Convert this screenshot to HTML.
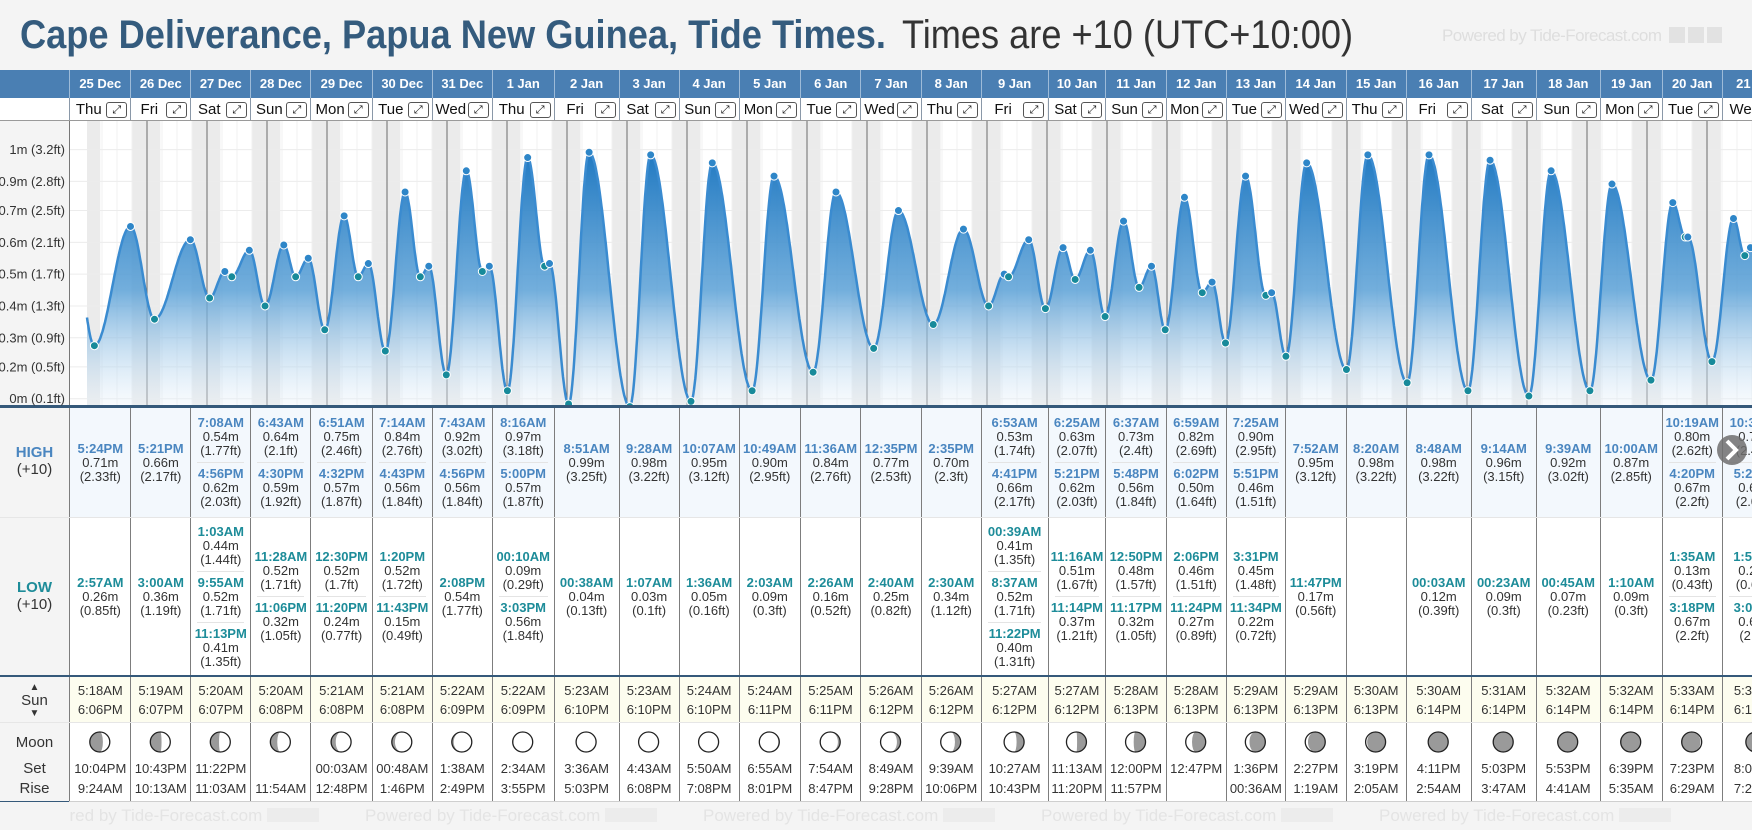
<!DOCTYPE html>
<html><head><meta charset="utf-8"><title>Cape Deliverance Tide Times</title>
<style>
*{box-sizing:border-box;margin:0;padding:0}
body{width:1752px;height:830px;overflow:hidden;background:#f4f4f4;font-family:"Liberation Sans",Arial,sans-serif;color:#333;position:relative}
.abs{position:absolute}
.hd{position:absolute;top:70px;height:28px;color:#fff;font-weight:bold;font-size:13px;line-height:28px;text-align:center;border-left:1px solid #9dbbd8;white-space:nowrap;overflow:hidden}
.dn{position:absolute;top:98px;height:23px;background:#fff;font-size:15px;line-height:23px;border-left:1px solid #8a98a8;white-space:nowrap;overflow:hidden;color:#111}
.dn .ex{position:absolute;right:3px;top:4px;width:21px;height:16px;border:1px solid #555;border-radius:3px;font-size:11px;line-height:14px;text-align:center;font-family:"DejaVu Sans",sans-serif}
.cell{position:absolute;display:flex;flex-direction:column;justify-content:center;align-items:center;border-left:1px solid #7d7d7d;font-size:13px;line-height:14px;text-align:center;white-space:nowrap;overflow:hidden}
.ent{width:100%;padding:0 2px}
.div{width:calc(100% - 12px);border-top:1px solid #e4e4e4;margin:4px 0}
.th{font-weight:bold;color:#4a86c0}
.tl{font-weight:bold;color:#1d8c99}
.lab{position:absolute;left:0;width:69px;text-align:center;font-size:15px}
</style></head>
<body>
<svg class="abs" style="left:0;top:0" width="1752" height="70">
<text x="20" y="48" font-family="Liberation Sans, sans-serif" font-weight="bold" font-size="40" fill="#345b7d" textLength="866" lengthAdjust="spacingAndGlyphs">Cape Deliverance, Papua New Guinea, Tide Times.</text>
<text x="902" y="48" font-family="Liberation Sans, sans-serif" font-size="40" fill="#333" textLength="451" lengthAdjust="spacingAndGlyphs">Times are +10 (UTC+10:00)</text>
<text x="1442" y="41" font-family="Liberation Sans, sans-serif" font-size="17" fill="#dedede" textLength="220">Powered by Tide-Forecast.com</text>
<rect x="1669" y="27" width="16" height="16" fill="#e2e2e2"/><rect x="1688" y="27" width="16" height="16" fill="#e2e2e2"/><rect x="1707" y="27" width="15" height="16" fill="#e2e2e2"/>
</svg>
<div class="abs" style="left:0;top:70px;width:1752px;height:28px;background:#4a7fb3"></div>
<div class="abs" style="left:0;top:98px;width:69px;height:23px;background:#fff"></div>
<div class="abs" style="left:0;top:121px;width:69px;height:709px;background:#f4f4f4"></div>
<div id="root"></div>
<svg id="chart" class="abs" style="left:0;top:0" width="1752" height="830"></svg>
<script>
const days=["25 Dec","26 Dec","27 Dec","28 Dec","29 Dec","30 Dec","31 Dec","1 Jan","2 Jan","3 Jan","4 Jan","5 Jan","6 Jan","7 Jan","8 Jan","9 Jan","10 Jan","11 Jan","12 Jan","13 Jan","14 Jan","15 Jan","16 Jan","17 Jan","18 Jan","19 Jan","20 Jan","21 Jan"];
const dows=["Thu","Fri","Sat","Sun","Mon","Tue","Wed","Thu","Fri","Sat","Sun","Mon","Tue","Wed","Thu","Fri","Sat","Sun","Mon","Tue","Wed","Thu","Fri","Sat","Sun","Mon","Tue","Wed"];
const highs=[[["5:24PM",0.71,"2.33"]],[["5:21PM",0.66,"2.17"]],[["7:08AM",0.54,"1.77"],["4:56PM",0.62,"2.03"]],[["6:43AM",0.64,"2.1"],["4:30PM",0.59,"1.92"]],[["6:51AM",0.75,"2.46"],["4:32PM",0.57,"1.87"]],[["7:14AM",0.84,"2.76"],["4:43PM",0.56,"1.84"]],[["7:43AM",0.92,"3.02"],["4:56PM",0.56,"1.84"]],[["8:16AM",0.97,"3.18"],["5:00PM",0.57,"1.87"]],[["8:51AM",0.99,"3.25"]],[["9:28AM",0.98,"3.22"]],[["10:07AM",0.95,"3.12"]],[["10:49AM",0.90,"2.95"]],[["11:36AM",0.84,"2.76"]],[["12:35PM",0.77,"2.53"]],[["2:35PM",0.70,"2.3"]],[["6:53AM",0.53,"1.74"],["4:41PM",0.66,"2.17"]],[["6:25AM",0.63,"2.07"],["5:21PM",0.62,"2.03"]],[["6:37AM",0.73,"2.4"],["5:48PM",0.56,"1.84"]],[["6:59AM",0.82,"2.69"],["6:02PM",0.50,"1.64"]],[["7:25AM",0.90,"2.95"],["5:51PM",0.46,"1.51"]],[["7:52AM",0.95,"3.12"]],[["8:20AM",0.98,"3.22"]],[["8:48AM",0.98,"3.22"]],[["9:14AM",0.96,"3.15"]],[["9:39AM",0.92,"3.02"]],[["10:00AM",0.87,"2.85"]],[["10:19AM",0.80,"2.62"],["4:20PM",0.67,"2.2"]],[["10:36AM",0.74,"2.43"],["5:24PM",0.63,"2.07"]]];
const lows=[[["2:57AM",0.26,"0.85"]],[["3:00AM",0.36,"1.19"]],[["1:03AM",0.44,"1.44"],["9:55AM",0.52,"1.71"],["11:13PM",0.41,"1.35"]],[["11:28AM",0.52,"1.71"],["11:06PM",0.32,"1.05"]],[["12:30PM",0.52,"1.7"],["11:20PM",0.24,"0.77"]],[["1:20PM",0.52,"1.72"],["11:43PM",0.15,"0.49"]],[["2:08PM",0.54,"1.77"]],[["00:10AM",0.09,"0.29"],["3:03PM",0.56,"1.84"]],[["00:38AM",0.04,"0.13"]],[["1:07AM",0.03,"0.1"]],[["1:36AM",0.05,"0.16"]],[["2:03AM",0.09,"0.3"]],[["2:26AM",0.16,"0.52"]],[["2:40AM",0.25,"0.82"]],[["2:30AM",0.34,"1.12"]],[["00:39AM",0.41,"1.35"],["8:37AM",0.52,"1.71"],["11:22PM",0.40,"1.31"]],[["11:16AM",0.51,"1.67"],["11:14PM",0.37,"1.21"]],[["12:50PM",0.48,"1.57"],["11:17PM",0.32,"1.05"]],[["2:06PM",0.46,"1.51"],["11:24PM",0.27,"0.89"]],[["3:31PM",0.45,"1.48"],["11:34PM",0.22,"0.72"]],[["11:47PM",0.17,"0.56"]],[],[["00:03AM",0.12,"0.39"]],[["00:23AM",0.09,"0.3"]],[["00:45AM",0.07,"0.23"]],[["1:10AM",0.09,"0.3"]],[["1:35AM",0.13,"0.43"],["3:18PM",0.67,"2.2"]],[["1:59AM",0.20,"0.66"],["3:07PM",0.60,"2.0"]]];
const sunrise=["5:18AM","5:19AM","5:20AM","5:20AM","5:21AM","5:21AM","5:22AM","5:22AM","5:23AM","5:23AM","5:24AM","5:24AM","5:25AM","5:26AM","5:26AM","5:27AM","5:27AM","5:28AM","5:28AM","5:29AM","5:29AM","5:30AM","5:30AM","5:31AM","5:32AM","5:32AM","5:33AM","5:33AM"];
const sunset=["6:06PM","6:07PM","6:07PM","6:08PM","6:08PM","6:08PM","6:09PM","6:09PM","6:10PM","6:10PM","6:10PM","6:11PM","6:11PM","6:12PM","6:12PM","6:12PM","6:12PM","6:13PM","6:13PM","6:13PM","6:13PM","6:13PM","6:14PM","6:14PM","6:14PM","6:14PM","6:14PM","6:14PM"];
const moonset=["10:04PM","10:43PM","11:22PM","","00:03AM","00:48AM","1:38AM","2:34AM","3:36AM","4:43AM","5:50AM","6:55AM","7:54AM","8:49AM","9:39AM","10:27AM","11:13AM","12:00PM","12:47PM","1:36PM","2:27PM","3:19PM","4:11PM","5:03PM","5:53PM","6:39PM","7:23PM","8:04PM"];
const moonrise=["9:24AM","10:13AM","11:03AM","11:54AM","12:48PM","1:46PM","2:49PM","3:55PM","5:03PM","6:08PM","7:08PM","8:01PM","8:47PM","9:28PM","10:06PM","10:43PM","11:20PM","11:57PM","","00:36AM","1:19AM","2:05AM","2:54AM","3:47AM","4:41AM","5:35AM","6:29AM","7:21AM"];
const moonPhase=[0.20,0.23,0.27,0.30,0.34,0.37,0.40,0.44,0.47,0.51,0.54,0.57,0.61,0.64,0.68,0.71,0.74,0.78,0.81,0.85,0.88,0.91,0.95,0.98,0.01,0.05,0.08,0.12];
const tickM=[0.06,0.18,0.29,0.41,0.53,0.65,0.77,0.88,1.00,1.12];
const tickLabels=["0m (0.1ft)","0.2m (0.5ft)","0.3m (0.9ft)","0.4m (1.3ft)","0.5m (1.7ft)","0.6m (2.1ft)","0.7m (2.5ft)","0.9m (2.8ft)","1m (3.2ft)","1.1m (3.6ft)"];
const prevEvent=[-6.5,0.74], nextEvent=[696.5,0.24];

const B=[69.3,130.3,190.3,250.3,310.4,371.8,431.8,491.8,553.6,618.6,678.6,738.6,800,860.4,920.7,980.7,1047.5,1105.4,1165.7,1225.7,1285,1345.5,1405.7,1470.7,1535.7,1599.7,1661.7,1721.7,1790];
const X0=87, PXH=2.5, CT=121, CB=405;
const xS=t=>X0+PXH*t;
const yS=h=>414.6-265*h;
function parseT(s){const m=s.match(/(\d+):(\d+)(AM|PM)/);let h=+m[1]%12;if(m[3]=="PM")h+=12;return h+(+m[2])/60;}
const root=document.getElementById('root');
function div(cls,style,html){const d=document.createElement('div');d.className=cls;d.style.cssText=style;d.innerHTML=html||'';root.appendChild(d);return d;}

// header + day rows
days.forEach((d,i)=>{
  const w=B[i+1]-B[i];
  const h=div('hd',`left:${B[i]}px;width:${w}px`,d);
  
  
  const n=div('dn',`left:${B[i]}px;width:${w}px`,`<span style="position:absolute;left:0;width:${w-24}px;text-align:center">${dows[i]}</span><span class="ex">⤢</span>`);
  
  
  const ex=n.querySelector('.ex');
  
  
});
div('abs','left:0;top:120px;width:1752px;height:1px;background:#9a9a9a','');

// table backgrounds
div('abs','left:69px;top:408px;width:1683px;height:109px;background:#f3f8fd','');
div('abs','left:69px;top:517px;width:1683px;height:159px;background:#fff','');
div('abs','left:69px;top:677px;width:1683px;height:45px;background:#fdfdef','');
div('abs','left:69px;top:722px;width:1683px;height:79px;background:#fff','');
div('abs','left:0;top:405px;width:1752px;height:3px;background:#35597a','');
div('abs','left:0;top:517px;width:1752px;height:1px;background:#e6e6e6','');
div('abs','left:0;top:675px;width:1752px;height:2px;background:#35597a','');
div('abs','left:0;top:722px;width:1752px;height:1px;background:#e6e6e6','');
div('abs','left:0;top:801px;width:69px;height:1px;background:#35597a','');
div('abs','left:69px;top:801px;width:1683px;height:1px;background:#cfcfcf','');

function entries(list,cls){
  return list.map(e=>`<div class="ent"><div class="${cls}">${e[0]}</div><div>${e[1].toFixed(2)}m</div><div>(${e[2]}ft)</div></div>`).join('<div class="div"></div>');
}
days.forEach((d,i)=>{
  const w=B[i+1]-B[i];
  const c1=div('cell',`left:${B[i]}px;width:${w}px;top:408px;height:109px`,entries(highs[i],'th'));
  
  
  const c2=div('cell',`left:${B[i]}px;width:${w}px;top:518px;height:157px`,entries(lows[i],'tl'));
  
  
  const c3=div('cell',`left:${B[i]}px;width:${w}px;top:677px;height:45px;line-height:19px`,`<div>${sunrise[i]}</div><div>${sunset[i]}</div>`);
  
  
  const c4=div('cell',`left:${B[i]}px;width:${w}px;top:723px;height:78px;justify-content:flex-start;padding-top:36px;line-height:20px`,`<div style="height:20px">${moonset[i]}</div><div>${moonrise[i]}</div>`);
  
  
});
// row labels
let l;
l=div('lab','top:444px;line-height:17px',`<div style="font-weight:bold;color:#4a86c0">HIGH</div><div>(+10)</div>`);


l=div('lab','top:579px;line-height:17px',`<div style="font-weight:bold;color:#1d8c99">LOW</div><div>(+10)</div>`);


l=div('lab','top:682px;line-height:12px;font-size:15px',`<div style="font-size:10px">▲</div><div style="line-height:14px">Sun</div><div style="font-size:10px">▼</div>`);


l=div('lab','top:733px;line-height:20px',`<div>Moon</div><div style="margin-top:6px">Set</div><div>Rise</div>`);


// footer watermark
[27,365,703,1041,1379].forEach(x=>{
  const f=div('abs',`left:${x}px;top:806px;font-size:17px;color:#e4e4e4;white-space:nowrap`,'Powered by Tide-Forecast.com <span style="display:inline-block;width:52px;height:14px;background:#ececec;vertical-align:-1px"></span>');
  
  
});
div('abs','left:0;top:802px;width:69px;height:28px;background:#f4f4f4','');

// chart
const NS='http://www.w3.org/2000/svg';
const svg=document.getElementById('chart');
function el(tag,attrs,parent){const e=document.createElementNS(NS,tag);for(const k in attrs)e.setAttribute(k,attrs[k]);(parent||svg).appendChild(e);return e;}
const defs=el('defs',{});
const g=el('linearGradient',{id:'fillg',x1:0,y1:150,x2:0,y2:405,gradientUnits:'userSpaceOnUse'},defs);
el('stop',{offset:'0',  'stop-color':'#1f78c1','stop-opacity':'1'},g);
el('stop',{offset:'0.55','stop-color':'#5aa0d6','stop-opacity':'0.85'},g);
el('stop',{offset:'1','stop-color':'#eaf3fb','stop-opacity':'0.35'},g);
const cp=el('clipPath',{id:'cclip'},defs);
el('rect',{x:69,y:CT,width:1683,height:CB-CT},cp);
const cg=el('g',{'clip-path':'url(#cclip)'});
el('rect',{x:69,y:CT,width:1683,height:CB-CT,fill:'#fff'},cg);
// night bands
const night=[[0,parseT(sunrise[0])]];
for(let d=0;d<days.length;d++){const s=d*24+parseT(sunset[d]);const r=(d+1)*24+(d+1<days.length?parseT(sunrise[d+1]):5.55);night.push([s,r]);}
night.forEach(n=>{
  const r=el('rect',{x:xS(n[0]),y:CT,width:xS(n[1])-xS(n[0]),height:CB-CT,fill:'#ebebeb'},cg);
  
  
});
// grid
for(let t=6;t<days.length*24+24;t+=6){if(t%24)el('line',{x1:xS(t),x2:xS(t),y1:CT,y2:CB,stroke:'#f0f0f0','stroke-width':1},cg);}
tickM.forEach(h=>el('line',{x1:69,x2:1752,y1:yS(h),y2:yS(h),stroke:'#ececec','stroke-width':1},cg));
for(let d=1;d<=days.length;d++){const ln=el('line',{x1:xS(d*24),x2:xS(d*24),y1:CT,y2:CB,stroke:'#6b6b6b','stroke-width':1},cg);}
// events
const ev=[{t:prevEvent[0],h:prevEvent[1],k:'H'}];
days.forEach((d,i)=>{highs[i].forEach(e=>ev.push({t:i*24+parseT(e[0]),h:e[1],k:'H'}));lows[i].forEach(e=>ev.push({t:i*24+parseT(e[0]),h:e[1],k:'L'}));});
ev.push({t:nextEvent[0],h:nextEvent[1],k:'L'});
ev.sort((a,b)=>a.t-b.t);
let pts=[];
for(let i=0;i<ev.length-1;i++){const a=ev[i],b=ev[i+1];const n=Math.max(4,Math.ceil((b.t-a.t)*4));for(let j=0;j<n;j++){const f=j/n;const t=a.t+(b.t-a.t)*f;if(t<0)continue;pts.push([xS(t),yS(a.h+(b.h-a.h)*(1-Math.cos(Math.PI*f))/2)]);}}
// include exact start
const e0=ev[0],e1=ev[1],f0=(0-e0.t)/(e1.t-e0.t);
pts.unshift([xS(0),yS(e0.h+(e1.h-e0.h)*(1-Math.cos(Math.PI*f0))/2)]);
const line='M'+pts.map(p=>p[0].toFixed(1)+','+p[1].toFixed(1)).join('L');
const area=el('path',{d:line+`L${pts[pts.length-1][0]},${CB}L${xS(0)},${CB}Z`,fill:'url(#fillg)'},cg);


const tl=el('path',{d:line,fill:'none',stroke:'#3a8bd0','stroke-width':2.5},cg);


ev.forEach(e=>{if(e.t<0||e.t>days.length*24)return;
  const c=el('circle',{cx:xS(e.t),cy:yS(e.h),r:4,fill:e.k=='H'?'#2e86c8':'#178a9a',stroke:'#fff','stroke-width':1},cg);
  
  
});
el('line',{x1:69.5,x2:69.5,y1:CT,y2:CB,stroke:'#777','stroke-width':1});
// y ticks
tickM.forEach((h,i)=>{const y=yS(h);if(y<CT-2)return;
  const t=el('text',{x:65,y:y+4.5,'text-anchor':'end','font-size':13,fill:'#333','font-family':'Liberation Sans, sans-serif'});
  t.textContent=tickLabels[i];
  
  
});
// moons
days.forEach((d,i)=>{
  const cx=(B[i]+Math.min(B[i+1],1790))/2, cy=742, r=10, p=moonPhase[i];
  const mg=el('g',{});
  
  
  el('circle',{cx,cy,r,fill:'#9a9a9a'},mg);
  const rx=Math.abs(Math.cos(2*Math.PI*p))*r;
  let dpath;
  if(p<0.5){const sw=p<0.25?0:1;dpath=`M${cx},${cy-r}A${r},${r} 0 0 1 ${cx},${cy+r}A${rx},${r} 0 0 ${sw} ${cx},${cy-r}Z`;}
  else{const sw=p<0.75?0:1;dpath=`M${cx},${cy-r}A${r},${r} 0 0 0 ${cx},${cy+r}A${rx},${r} 0 0 ${sw} ${cx},${cy-r}Z`;}
  el('path',{d:dpath,fill:'#fff'},mg);
  el('circle',{cx,cy,r,fill:'none',stroke:'#222','stroke-width':1.3},mg);
});
// next button
const nb=el('g',{});


el('circle',{cx:1732,cy:450,r:15,fill:'rgba(110,110,110,0.85)'},nb);
el('path',{d:'M1727,441L1736,450L1727,459',fill:'none',stroke:'#fff','stroke-width':4},nb);
</script>
</body></html>
